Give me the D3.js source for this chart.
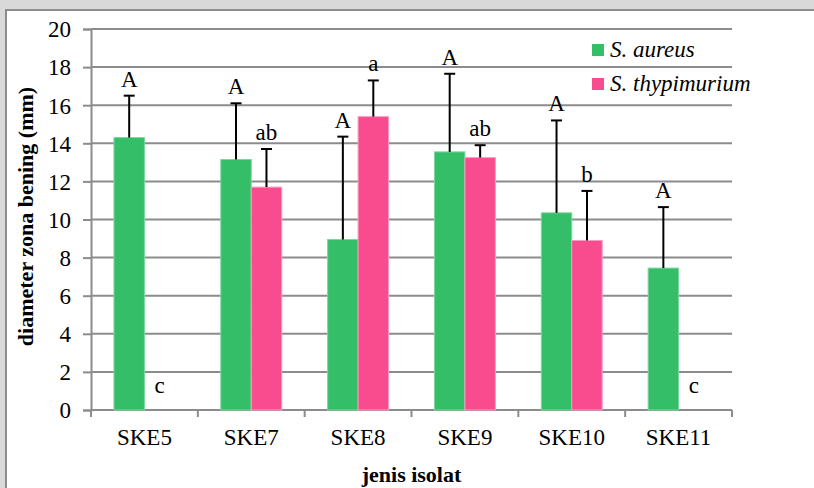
<!DOCTYPE html>
<html>
<head>
<meta charset="utf-8">
<script src="https://cdn.jsdelivr.net/npm/d3@7"></script>
<style>
  body { margin: 0; background: #d9d9d9; overflow: hidden; }
  svg { display: block; }
  svg text { font-family: "Liberation Serif", "Times New Roman", "DejaVu Serif", serif; fill: #000; }
</style>
</head>
<body>
<div id="chart"></div>
<script>
// data
const isolates = ["SKE5", "SKE7", "SKE8", "SKE9", "SKE10", "SKE11"];
const seriesNames = ["S. aureus", "S. thypimurium"];
const aureus = [14.3, 13.15, 8.95, 13.55, 10.35, 7.45];
const aureusSd = [2.2, 2.95, 5.4, 4.1, 4.85, 3.2];
const aureusLetters = ["A", "A", "A", "A", "A", "A"];
const thypi = [0, 11.7, 15.4, 13.25, 8.9, 0];
const thypiSd = [null, 2.0, 1.9, 0.65, 2.6, null];
const thypiLetters = ["c", "ab", "a", "ab", "b", "c"];
const yTicks = [0, 2, 4, 6, 8, 10, 12, 14, 16, 18, 20];
const colors = ["#33be67", "#f84c8e"];
const strokes = ["#7ed69e", "#fb9cc0"];

const W = 814, H = 488;
const margin = { top: 29, right: 82, bottom: 78, left: 91 };

const svg = d3.select("#chart").append("svg")
  .attr("width", W)
  .attr("height", H);

// chart frame (white area with gray edge)
svg.append("rect")
  .attr("x", 6).attr("y", 10)
  .attr("width", W + 20).attr("height", H + 20)
  .attr("fill", "#fff")
  .attr("stroke", "#8c8c8c")
  .attr("stroke-width", 2);

const x0 = d3.scaleBand()
  .domain(isolates)
  .range([margin.left, W - margin.right])
  .paddingInner(0.43)
  .paddingOuter(0.215);

const x1 = d3.scaleBand()
  .domain([0, 1])
  .range([0, x0.bandwidth()]);

const y = d3.scaleLinear()
  .domain([0, 20])
  .range([H - margin.bottom, margin.top]);

// gridlines
svg.append("g")
  .selectAll("line")
  .data(yTicks.slice(1))
  .join("line")
  .attr("x1", margin.left)
  .attr("x2", W - margin.right)
  .attr("y1", d => y(d))
  .attr("y2", d => y(d))
  .attr("stroke", "#8c8c8c")
  .attr("stroke-width", 2);

// y axis
const yAxis = svg.append("g")
  .attr("transform", `translate(${margin.left},0)`)
  .call(d3.axisLeft(y).tickValues(yTicks).tickSize(8).tickPadding(12))
  .attr("font-family", null)
  .attr("font-size", null);
yAxis.select(".domain").attr("stroke", "#8c8c8c").attr("stroke-width", 2);
yAxis.selectAll(".tick line").attr("stroke", "#8c8c8c").attr("stroke-width", 2);
yAxis.selectAll("text")
  .style("font-size", "23px")
  .attr("dy", "0.34em");

// x axis (ticks at category boundaries)
const step = x0.step();
const bounds = d3.range(isolates.length + 1).map(i => margin.left + i * step);
const xAxis = svg.append("g");
xAxis.append("line")
  .attr("x1", margin.left).attr("x2", W - margin.right)
  .attr("y1", y(0)).attr("y2", y(0))
  .attr("stroke", "#8c8c8c").attr("stroke-width", 2);
xAxis.selectAll(".bt")
  .data(bounds)
  .join("line")
  .attr("class", "bt")
  .attr("x1", d => d).attr("x2", d => d)
  .attr("y1", y(0)).attr("y2", y(0) + 7)
  .attr("stroke", "#8c8c8c").attr("stroke-width", 2);
xAxis.selectAll("text")
  .data(isolates)
  .join("text")
  .attr("x", d => x0(d) + x0.bandwidth() / 2)
  .attr("y", y(0) + 35)
  .attr("text-anchor", "middle")
  .style("font-size", "23px")
  .text(d => d);

// bars
const series = [
  { vals: aureus, sd: aureusSd, letters: aureusLetters },
  { vals: thypi, sd: thypiSd, letters: thypiLetters }
];

series.forEach((s, si) => {
  const g = svg.append("g");
  const rows = isolates.map((k, i) => ({ k, v: s.vals[i], sd: s.sd[i], lab: s.letters[i] }));
  const cx = d => x0(d.k) + x1(si) + x1.bandwidth() / 2;

  g.selectAll("rect")
    .data(rows.filter(d => d.v > 0))
    .join("rect")
    .attr("x", d => x0(d.k) + x1(si))
    .attr("y", d => y(d.v))
    .attr("width", x1.bandwidth())
    .attr("height", d => y(0) - y(d.v))
    .attr("fill", colors[si])
    .attr("stroke", strokes[si])
    .attr("stroke-width", 1);

  const eb = rows.filter(d => d.sd != null);
  g.selectAll(".err")
    .data(eb)
    .join("line")
    .attr("class", "err")
    .attr("x1", cx).attr("x2", cx)
    .attr("y1", d => y(d.v))
    .attr("y2", d => y(d.v + d.sd))
    .attr("stroke", "#000").attr("stroke-width", 2);
  g.selectAll(".cap")
    .data(eb)
    .join("line")
    .attr("class", "cap")
    .attr("x1", d => cx(d) - 5.5).attr("x2", d => cx(d) + 5.5)
    .attr("y1", d => y(d.v + d.sd))
    .attr("y2", d => y(d.v + d.sd))
    .attr("stroke", "#000").attr("stroke-width", 2);

  g.selectAll(".lab")
    .data(rows)
    .join("text")
    .attr("class", "lab")
    .attr("x", cx)
    .attr("y", d => d.sd != null ? y(d.v + d.sd) - 9 : y(d.v) - 17)
    .attr("text-anchor", "middle")
    .style("font-size", "23px")
    .text(d => d.lab);
});

// legend
const legend = svg.append("g").attr("transform", "translate(592,44)");
seriesNames.forEach((n, i) => {
  legend.append("rect")
    .attr("x", 0).attr("y", i * 34)
    .attr("width", 12).attr("height", 12)
    .attr("fill", colors[i]);
  legend.append("text")
    .attr("x", 18).attr("y", i * 34 + 13)
    .style("font-size", "23px")
    .style("font-style", "italic")
    .text(n);
});

// axis titles
svg.append("text")
  .attr("transform", `translate(33,${(y(0) + y(20)) / 2 - 3}) rotate(-90)`)
  .attr("text-anchor", "middle")
  .style("font-size", "22px")
  .style("font-weight", "bold")
  .text("diameter zona bening (mm)");

svg.append("text")
  .attr("x", (margin.left + W - margin.right) / 2)
  .attr("y", 482)
  .attr("text-anchor", "middle")
  .style("font-size", "22px")
  .style("font-weight", "bold")
  .text("jenis isolat");
</script>
</body>
</html>
